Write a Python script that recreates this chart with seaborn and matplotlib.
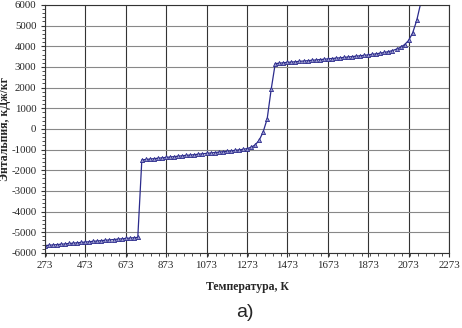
import numpy as np
import pandas as pd
import matplotlib
matplotlib.use('Agg')
import matplotlib.pyplot as plt
from matplotlib.ticker import MultipleLocator
import seaborn as sns

# temperatures, K (step 20)
temp_k = [273, 293, 313, 333, 353, 373, 393, 413, 433, 453, 473, 493, 513, 533, 553,
          573, 593, 613, 633, 653, 673, 693, 713, 733,
          753, 773, 793, 813, 833, 853, 873, 893, 913, 933, 953, 973, 993, 1013, 1033,
          1053, 1073, 1093, 1113, 1133, 1153, 1173, 1193, 1213, 1233, 1253, 1273,
          1293, 1313, 1333, 1353, 1373, 1393,
          1413, 1433, 1453, 1473, 1493, 1513, 1533, 1553, 1573, 1593, 1613, 1633, 1653,
          1673, 1693, 1713, 1733, 1753, 1773, 1793, 1813, 1833, 1853, 1873, 1893, 1913,
          1933, 1953, 1973, 1993, 2013, 2033, 2053, 2073, 2093, 2113, 2133]

# enthalpy, kJ/kg
enthalpy = [-5650, -5630, -5615, -5600, -5580, -5565, -5545, -5530, -5510, -5495,
            -5475, -5460, -5440, -5425, -5405, -5390, -5370, -5355, -5335, -5320,
            -5300, -5285, -5265, -5250,
            -1500, -1480, -1460, -1440, -1420, -1400, -1380, -1360, -1340, -1320,
            -1300, -1280, -1265, -1245, -1225, -1205, -1185, -1165, -1145, -1125,
            -1105, -1085, -1065, -1040, -1015, -990, -955,
            -890, -780, -560, -150, 480, 1920,
            3160, 3180, 3200, 3220, 3235, 3250, 3270, 3285, 3300, 3320, 3335, 3355,
            3370, 3390, 3405, 3425, 3440, 3460, 3480, 3500, 3520, 3540, 3560, 3585,
            3610, 3635, 3665, 3700, 3740, 3790, 3860, 3950, 4080, 4280, 4650, 5250, 6100]

x_ticks = [273, 473, 673, 873, 1073, 1273, 1473, 1673, 1873, 2073, 2273]
y_ticks = [-6000, -5000, -4000, -3000, -2000, -1000, 0, 1000, 2000, 3000, 4000, 5000, 6000]

df = pd.DataFrame({'T': temp_k, 'H': enthalpy})

sns.set_style("white")
plt.rcParams['font.family'] = ['Liberation Serif', 'DejaVu Serif']
plt.rcParams['axes.unicode_minus'] = False

fig = plt.figure(figsize=(4.62, 3.28), dpi=100)
ax = fig.add_axes([0.097, 0.229, 0.875, 0.756])

sns.lineplot(data=df, x='T', y='H', ax=ax, color='#2b2b8c', linewidth=0.9,
             marker='^', markersize=3.0, markerfacecolor='#9a9ad0',
             markeredgecolor='#2b2b8c', markeredgewidth=0.6)

ax.set_xlim(273, 2273)
ax.set_ylim(-6000, 6000)
ax.set_xticks(x_ticks)
ax.set_yticks(y_ticks)
ax.xaxis.set_minor_locator(MultipleLocator(40))
ax.yaxis.set_minor_locator(MultipleLocator(200))

ax.grid(True, axis='x', which='major', color='#333333', linewidth=0.8)
ax.grid(True, axis='y', which='major', color='#888888', linewidth=0.8)
ax.set_axisbelow(True)
for s in ax.spines.values():
    s.set_color('#333333')
    s.set_linewidth(0.8)

ax.tick_params(axis='both', which='major', direction='out', length=3, width=0.8,
               color='#333333', labelsize=7.8, pad=3, bottom=True, left=True)
ax.tick_params(axis='both', which='minor', direction='out', length=2, width=0.6,
               color='#333333', bottom=True, left=True)

ax.set_xlabel('Температура, К', fontsize=8.5, fontweight='bold', labelpad=8)
ax.set_ylabel('Энтальпия, кДж/кг', fontsize=8.5, fontweight='bold')
ax.yaxis.set_label_coords(-0.083, 0.5)

fig.text(0.53, 0.048, 'а)', fontsize=14, ha='center', va='center',
         family=['Liberation Sans', 'DejaVu Sans'])

fig.savefig('out.png', dpi=100)
